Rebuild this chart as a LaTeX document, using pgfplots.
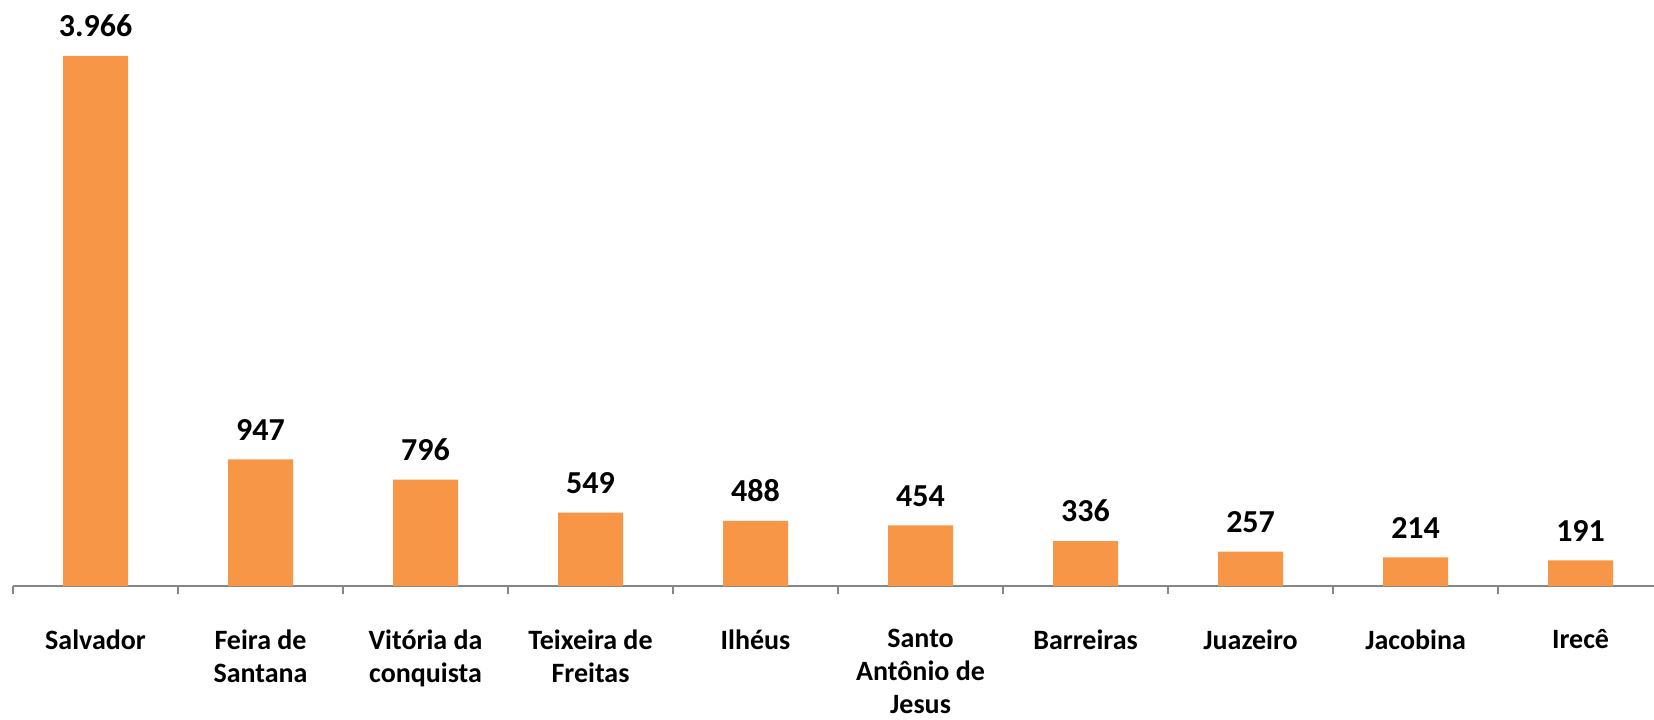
\documentclass[border=0pt]{standalone}
\usepackage{fontspec}
\setmainfont{Carlito}
\usepackage{pgfplots}
\pgfplotsset{compat=1.18}
\definecolor{barorange}{HTML}{F79646}
\definecolor{axisgray}{HTML}{868686}
\begin{document}
\begin{tikzpicture}
\useasboundingbox (0,0) rectangle (827pt,359.5pt);
\begin{axis}[
  at={(6.5pt,66.5pt)}, anchor=south west,
  scale only axis, width=820.5pt, height=293pt,
  xmin=-0.5, xmax=9.445, ymin=0, ymax=4385,
  clip=false,
  axis y line=none,
  axis x line*=bottom,
  axis line style={axisgray, line width=1pt, -},
  x axis line style={-},
  xtick={0,...,9},
  xticklabels={Salvador, Feira de\\Santana, Vitória da\\conquista, Teixeira de\\Freitas, Ilhéus, Santo\\Antônio de\\Jesus, Barreiras, Juazeiro, Jacobina, Irecê},
  major x tick style={draw=none},
  minor xtick={-0.5,0.5,...,9.5},
  minor tick length=4pt,
  minor x tick style={axisgray, line width=1pt},
  tick align=outside,
  xticklabel style={font=\fontsize{14pt}{16.5pt}\selectfont\bfseries, align=center, anchor=north, yshift=-14pt},
  ybar, bar width=32.5pt,
  nodes near coords,
  every node near coord/.append style={font=\fontsize{16pt}{19pt}\selectfont\bfseries, text=black, anchor=south, yshift=6pt},
  /pgf/number format/.cd, 1000 sep={.}, assume math mode=true,
]
\addplot[fill=barorange, draw=none] coordinates {
(0,3966) (1,947) (2,796) (3,549) (4,488) (5,454) (6,336) (7,257) (8,214) (9,191)
};
\end{axis}
\end{tikzpicture}
\end{document}
